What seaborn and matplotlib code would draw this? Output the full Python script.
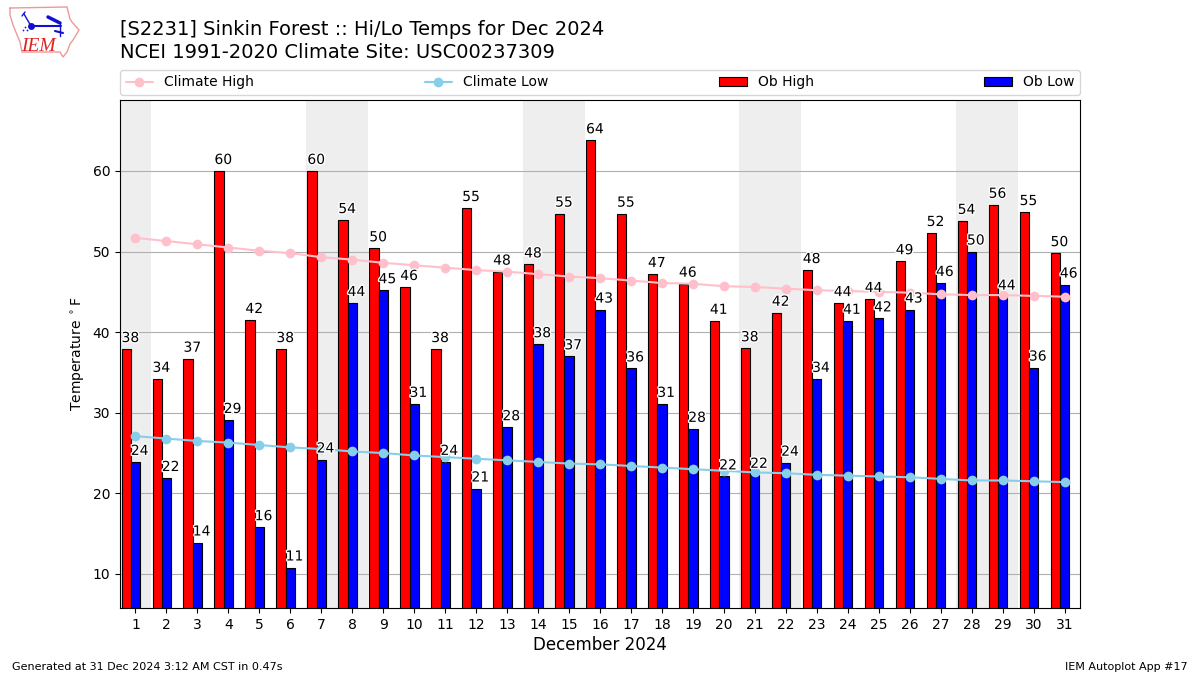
#!/usr/bin/env python3
"""Hi/Lo temps for Dec 2024 at Sinkin Forest, daily obs against climate."""

import matplotlib
matplotlib.use("Agg")  # no display here
import matplotlib.patheffects as pe
import matplotlib.pyplot as plt
import numpy as np
import seaborn as sns

days = list(range(1, 32))
ob_high = [37.9, 34.2, 36.7, 60.0, 41.5, 37.9, 60.0, 53.9, 50.4, 45.6, 37.9,
           55.4, 47.5, 48.4, 54.7, 63.8, 54.7, 47.2, 46.0, 41.4, 38.0, 42.4,
           47.7, 43.6, 44.1, 48.8, 52.3, 53.8, 55.8, 54.9, 49.8]
ob_low = [23.9, 21.9, 13.9, 29.1, 15.8, 10.8, 24.2, 43.6, 45.2, 31.1, 23.9,
          20.6, 28.2, 38.5, 37.0, 42.8, 35.5, 31.1, 28.0, 22.1, 22.3, 23.8,
          34.2, 41.4, 41.7, 42.8, 46.1, 50.0, 44.4, 35.6, 45.9]
climate_high = [51.7, 51.3, 50.9, 50.5, 50.1, 49.8, 49.3, 49.0, 48.6, 48.3, 48.0,
                47.7, 47.5, 47.2, 46.9, 46.7, 46.4, 46.1, 46.0, 45.7, 45.6, 45.4,
                45.2, 45.1, 45.0, 44.9, 44.7, 44.6, 44.6, 44.5, 44.4]
climate_low = [27.1, 26.8, 26.5, 26.3, 26.0, 25.7, 25.5, 25.2, 25.0, 24.7, 24.5,
               24.3, 24.1, 23.9, 23.7, 23.6, 23.4, 23.2, 23.0, 22.8, 22.6, 22.5,
               22.3, 22.2, 22.1, 22.0, 21.8, 21.6, 21.6, 21.5, 21.4]
weekend_spans = [(0.5, 1.5), (6.5, 8.5), (13.5, 15.5), (20.5, 22.5), (27.5, 29.5)]

W, H = 1200, 675
BAR = 0.3

sns.set_theme(style="white", rc={"axes.linewidth": 0.8, "axes.edgecolor": "black",
                                 "xtick.bottom": True, "ytick.left": True,
                                 "text.color": "black", "axes.labelcolor": "black",
                                 "xtick.color": "black", "ytick.color": "black"})
plt.rcParams["font.family"] = ["DejaVu Sans"]

fig = plt.figure(figsize=(12, 6.75), dpi=100)
ax = fig.add_axes([120 / W, 1 - 608 / H, 960 / W, 508 / H])

for lo, hi in weekend_spans:
    ax.axvspan(lo, hi, color="#EEEEEE", lw=0, zorder=0)
ax.grid(axis="y", color="#b0b0b0", lw=0.8, zorder=1)
ax.set_axisbelow(True)

day_arr = np.array(days, dtype=float)
sns.barplot(x=day_arr - BAR, y=ob_high, native_scale=True, width=BAR, color="red",
            saturation=1, edgecolor="black", linewidth=0.8, label="Ob High", ax=ax, zorder=2)
sns.barplot(x=day_arr, y=ob_low, native_scale=True, width=BAR, color="blue",
            saturation=1, edgecolor="black", linewidth=0.8, label="Ob Low", ax=ax, zorder=2)
sns.lineplot(x=days, y=climate_high, color="pink", marker="o", markersize=7, lw=1.5,
             markeredgewidth=0, label="Climate High", ax=ax, zorder=3, legend=False)
sns.lineplot(x=days, y=climate_low, color="skyblue", marker="o", markersize=7, lw=1.5,
             markeredgewidth=0, label="Climate Low", ax=ax, zorder=3, legend=False)

# labels start at the bar's left edge, white halo so they read over the lines
halo = [pe.withStroke(linewidth=2, foreground="white")]
for d, hi_val, lo_val in zip(days, ob_high, ob_low):
    ax.text(d - 0.45, hi_val + 0.5, f"{hi_val:.0f}", ha="left", va="bottom",
            fontsize=10, path_effects=halo, zorder=4)
    ax.text(d - 0.15, lo_val + 0.5, f"{lo_val:.0f}", ha="left", va="bottom",
            fontsize=10, path_effects=halo, zorder=4)

ax.set_xlim(0.5, 31.5)
ax.set_ylim(5.78, 68.8)
ax.set_xticks(days)
ax.set_xticklabels([str(d) for d in days], fontsize=10)
ax.set_yticks([10, 20, 30, 40, 50, 60])
ax.tick_params(axis="both", labelsize=10, length=3.5, width=0.8, pad=3.5)
ax.set_xlabel("December 2024", fontsize=12, labelpad=3)
ax.set_ylabel(r"Temperature $^\circ$F", fontsize=10)

handles, labels = ax.get_legend_handles_labels()
order = ["Climate High", "Climate Low", "Ob High", "Ob Low"]
lookup = dict(zip(labels, handles))
ax.legend([lookup[k] for k in order], order, ncol=4, mode="expand", fontsize=10,
          loc="lower left", bbox_to_anchor=(0, 1.01, 1, 0.05), borderaxespad=0,
          frameon=True, edgecolor="#cccccc", framealpha=0.8)

fig.text(120 / W, 1 - 35 / H, "[S2231] Sinkin Forest :: Hi/Lo Temps for Dec 2024",
         fontsize=14, va="baseline")
fig.text(120 / W, 1 - 58 / H, "NCEI 1991-2020 Climate Site: USC00237309",
         fontsize=14, va="baseline")
fig.text(12 / W, 1 - 670 / H, "Generated at 31 Dec 2024 3:12 AM CST in 0.47s", fontsize=8)
fig.text(1188 / W, 1 - 670 / H, "IEM Autoplot App #17", fontsize=8, ha="right")

# logo, in pixel coordinates of the figure
logo = fig.add_axes([0, 0, 1, 1], facecolor="none")
logo.set_xlim(0, W)
logo.set_ylim(H, 0)
logo.axis("off")
outline_x = [10, 67, 70, 72, 79, 73, 70, 67, 63, 60, 22, 20, 13, 10, 10]
outline_y = [8, 7, 19, 22, 30, 40, 44, 52, 57, 52, 52, 42, 25, 15, 8]
logo.plot(outline_x, outline_y, color="#eb9a9a", lw=1)
logo.plot([31, 61], [26, 26], color="#1010d0", lw=1.5)
logo.plot([24, 31], [14, 26], color="#1010d0", lw=1)
logo.plot([22, 25], [16, 12], color="#1010d0", lw=1)
logo.plot([48, 60], [17, 23], color="#1010d0", lw=2.5)
logo.plot([60, 60], [24, 36], color="#1010d0", lw=1)
logo.plot([55, 63], [31, 33], color="#1010d0", lw=1.5)
logo.plot([31], [26], "o", color="#1010d0", ms=5, mew=0)
logo.plot([23, 25, 27], [30, 27, 30], ".", color="#1010d0", ms=2.5, mew=0)
logo.text(21, 51, "IEM", family="Liberation Serif", style="italic", color="#dd2222", fontsize=14)

fig.savefig("out.png", dpi=100)
